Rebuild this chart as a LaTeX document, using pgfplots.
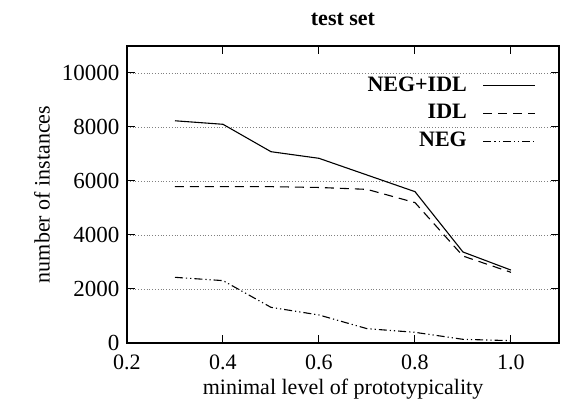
\documentclass[border=0pt]{standalone}
\usepackage{pgfplots}
\pgfplotsset{compat=1.18}
\usepackage{fontspec}
\setmainfont{Liberation Serif}
\begin{document}
\fontsize{11}{13}\selectfont
\begin{tikzpicture}
\useasboundingbox (-63.5pt,-31pt) rectangle (218.5pt,171.5pt);
\begin{axis}[
  at={(0,0)}, anchor=south west,
  scale only axis, width=216pt, height=148.5pt,
  xmin=0.2, xmax=1.1, ymin=0, ymax=11000,
  xtick={0.2,0.4,0.6,0.8,1.0},
  ytick={0,2000,4000,6000,8000,10000},
  xticklabel style={yshift=-2pt, /pgf/number format/.cd, fixed, fixed zerofill, precision=1},
  yticklabel style={font=\fontsize{11.5}{13}\selectfont, /pgf/number format/.cd, fixed, 1000 sep={}},
  scaled ticks=false,
  /pgf/number format/assume math mode=true,
  tick align=inside,
  major tick length=4pt,
  ymajorgrids,
  major grid style={densely dotted, gray, line width=0.4pt},
  axis line style={line width=0.6pt},
  tick style={line width=0.5pt, black},
  xlabel={minimal level of prototypicality},
  ylabel={number of instances},
  xlabel style={at={(axis description cs:0.5,0)}, anchor=center, yshift=-23pt},
  ylabel style={at={(axis description cs:-0.1965,0.5)}, anchor=center},
  title={\textbf{test set}},
  title style={at={(axis description cs:0.5,1)}, anchor=base, yshift=4pt},
  legend style={draw=none, fill=none, at={(0.9615,0.925)}, anchor=north east,
    font=\bfseries, legend cell align=right, row sep=1pt,
    /tikz/column sep=6pt},
  legend plot pos=right,
  legend image code/.code={\draw[#1] (0pt,0pt) -- (26pt,0pt);},
]
\addplot[black, line width=0.55pt] coordinates {
(0.3,8230) (0.4,8100) (0.5,7085) (0.6,6840) (0.7,6222) (0.8,5605) (0.9,3370) (1.0,2700)};
\addlegendentry{NEG+IDL}
\addplot[black, line width=0.55pt, dash pattern=on 4.5pt off 3pt] coordinates {
(0.3,5790) (0.4,5790) (0.5,5790) (0.6,5760) (0.7,5690) (0.8,5200) (0.9,3220) (1.0,2617)};
\addlegendentry{IDL}
\addplot[black, line width=0.55pt, dash pattern=on 4pt off 1.5pt on 0.6pt off 1.5pt on 0.6pt off 1.5pt] coordinates {
(0.3,2432) (0.4,2310) (0.5,1320) (0.6,1037) (0.7,531) (0.8,395) (0.9,136) (1.0,86)};
\addlegendentry{NEG}
\end{axis}
\end{tikzpicture}
\end{document}
